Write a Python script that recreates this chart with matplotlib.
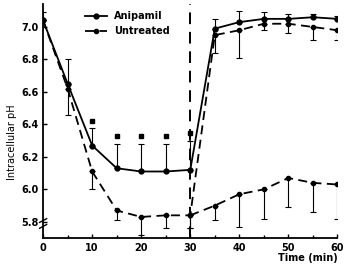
import matplotlib.pyplot as plt

# time points (min)
t_all = [0, 5, 10, 15, 20, 25, 30, 35, 40, 45, 50, 55, 60]
t_low = [30, 35, 40, 45, 50, 55, 60]

# Anipamil (solid), error bars upwards
anipamil = [7.04, 6.65, 6.27, 6.13, 6.11, 6.11, 6.12, 6.99, 7.03, 7.05, 7.05, 7.06, 7.05]
anipamil_err = [0.05, 0.15, 0.11, 0.15, 0.17, 0.17, 0.18, 0.06, 0.07, 0.04, 0.03, 0.02, 0.02]

# Untreated (dashed), error bars downwards
untreated = [7.04, 6.62, 6.11, 5.87, 5.83, 5.84, 5.84, 6.95, 6.98, 7.02, 7.02, 7.00, 6.98]
untreated_err = [0.0, 0.16, 0.11, 0.06, 0.11, 0.08, 0.08, 0.11, 0.17, 0.04, 0.06, 0.08, 0.06]

# lower dashed curve after 30 min
low = [5.84, 5.90, 5.97, 6.00, 6.07, 6.04, 6.03]
low_err = [0.08, 0.09, 0.20, 0.18, 0.18, 0.18, 0.21]

# significance marks
sig_t = [10, 15, 20, 25, 30]
sig_y = [6.42, 6.33, 6.33, 6.33, 6.35]

plt.rcParams['font.family'] = 'DejaVu Sans'
fig = plt.figure(figsize=(3.45, 2.66), dpi=100)
ax = fig.add_axes([0.125, 0.105, 0.853, 0.879])

lw = 1.3
ax.errorbar(t_all, anipamil, yerr=[[0] * len(anipamil_err), anipamil_err],
            fmt='none', ecolor='black', elinewidth=0.8, capsize=2.5, capthick=0.8)
ax.errorbar(t_all, untreated, yerr=[untreated_err, [0] * len(untreated_err)],
            fmt='none', ecolor='black', elinewidth=0.8, capsize=2.5, capthick=0.8)
ax.errorbar(t_low, low, yerr=[low_err, [0] * len(low_err)],
            fmt='none', ecolor='black', elinewidth=0.8, capsize=2.5, capthick=0.8)

ax.plot(t_all, anipamil, '-', color='black', lw=lw, marker='o', ms=3.5,
        label='Anipamil')
ax.plot(t_all, untreated, '--', color='black', lw=lw, marker='o', ms=3,
        dashes=(5, 3), label='Untreated')
ax.plot(t_low, low, '--', color='black', lw=lw, marker='o', ms=3, dashes=(5, 3))
ax.plot(sig_t, sig_y, 's', color='black', ms=2.8, ls='none')

ax.axvline(30, color='black', lw=1.4, dashes=(6, 4))

ax.set_xlim(0, 60)
ax.set_ylim(5.70, 7.14)
ax.set_xticks(range(0, 61, 10))
ax.set_xticks(range(5, 60, 10), minor=True)
ax.set_yticks([5.8, 6.0, 6.2, 6.4, 6.6, 6.8, 7.0])
ax.set_yticklabels(['5.8', '6.0', '6.2', '6.4', '6.6', '6.8', '7.0'])
ax.tick_params(direction='in', length=3, width=1, labelsize=7)
ax.tick_params(which='minor', direction='in', length=2, width=1)
for lab in ax.get_xticklabels() + ax.get_yticklabels():
    lab.set_fontweight('bold')
ax.spines['top'].set_visible(False)
ax.spines['right'].set_visible(False)
ax.spines['left'].set_linewidth(1.3)
ax.spines['bottom'].set_linewidth(1.3)

# axis break marks
for yy in (0.05, 0.075):
    ax.plot([-0.012, 0.012], [yy - 0.008, yy + 0.008], transform=ax.transAxes,
            color='black', lw=1, clip_on=False)

ax.set_ylabel('Intracellular pH', fontsize=7)
ax.yaxis.set_label_coords(-0.09, 0.41)
ax.set_xlabel('Time (min)', fontsize=7, fontweight='bold', loc='right', labelpad=0)

ax.legend(loc='upper left', bbox_to_anchor=(0.12, 1.0), frameon=False,
          fontsize=7, handlelength=2.2, borderaxespad=0.3,
          prop={'weight': 'bold', 'size': 7})

fig.savefig('out.png')
